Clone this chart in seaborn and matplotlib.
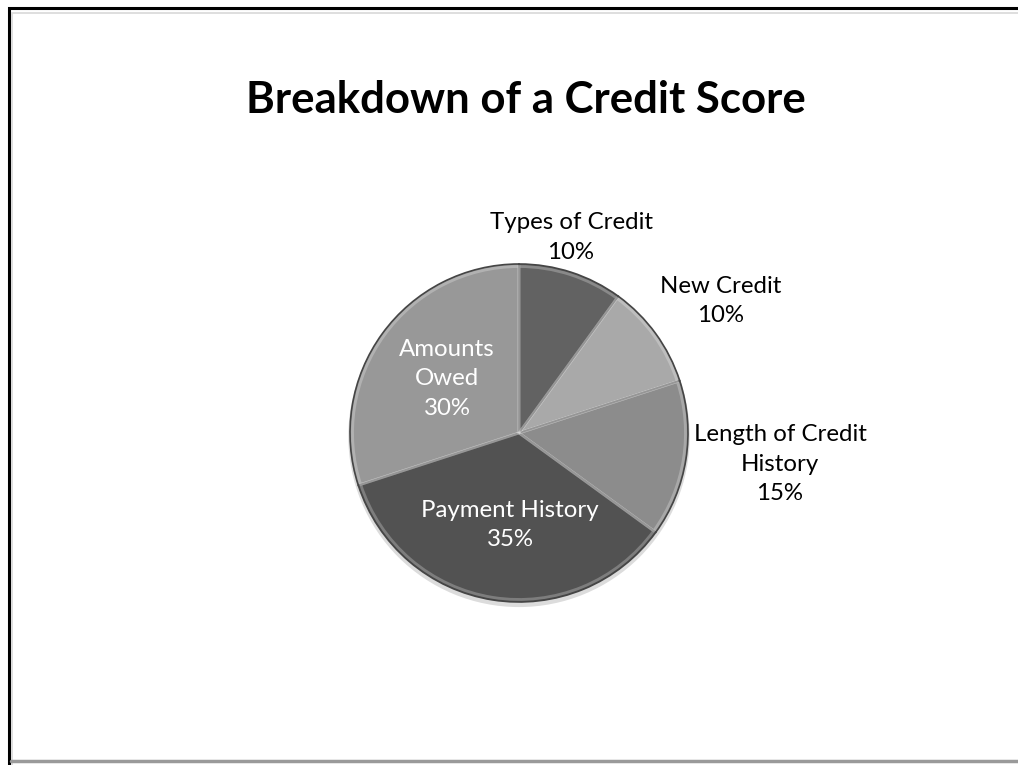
import matplotlib
matplotlib.use("Agg")
import matplotlib.pyplot as plt
import seaborn as sns
import numpy as np
from matplotlib.patches import Rectangle

categories = ["Types of Credit", "New Credit", "Length of Credit History",
              "Payment History", "Amounts Owed"]
values = [10, 10, 15, 35, 30]
label_texts = ["Types of Credit\n10%", "New Credit\n10%", "Length of Credit\nHistory\n15%",
               "Payment History\n35%", "Amounts\nOwed\n30%"]
colors = ["#626262", "#a9a9a9", "#8c8c8c", "#525252", "#989898"]
label_colors = ["black", "black", "black", "white", "white"]

sns.set_theme(style="white")
plt.rcParams['font.family'] = ['Lato', 'DejaVu Sans']

W, H = 1018, 765
fig = plt.figure(figsize=(W / 100, H / 100), dpi=100)
fig.patch.set_facecolor("white")

# frame
fig.add_artist(Rectangle((8.5 / W, -0.1), 1.2, 1 - 8.5 / H + 0.1, transform=fig.transFigure,
                         fill=False, edgecolor="black", linewidth=2.2))
fig.add_artist(Rectangle((11.5 / W, -0.1), 1.2, 1 - 11.5 / H + 0.1 - 0.002, transform=fig.transFigure,
                         fill=False, edgecolor="#d8d8d8", linewidth=1.2))
fig.add_artist(plt.Line2D([11 / W, 1], [4 / H, 4 / H], transform=fig.transFigure,
                          color="#9a9a9a", linewidth=2.5))

cx, cy, R = 519, 433, 169
ax = fig.add_axes([(cx - R) / W, (H - cy - R) / H, 2 * R / W, 2 * R / H])
ax.set_facecolor("none")

# soft shadow
shadow = plt.Circle((0.0, -0.02), 1.01, color="#dcdcdc", zorder=0, lw=0)
shadow.set_clip_on(False)
ax.add_patch(shadow)
wedges, _ = ax.pie(values, colors=colors, startangle=90, counterclock=False,
                   radius=1.0,
                   wedgeprops=dict(edgecolor="#454545", linewidth=1.2))
# bevel highlight
ax.pie(values, colors=["none"] * 5, startangle=90, counterclock=False, radius=0.985,
       wedgeprops=dict(edgecolor=(1, 1, 1, 0.25), linewidth=2.0, fill=False))
ax.set_xlim(-1, 1)
ax.set_ylim(-1, 1)
ax.axis("off")
for p in ax.patches:
    p.set_clip_on(False)

# label positions (relative to pie radius)
dists = [1.197, 1.428, 1.555, 0.547, 0.533]
angles = [75.1, 33.2, -6.8, -95.6, 143.1]
for txt, d, a, c in zip(label_texts, dists, angles, label_colors):
    ax.text(d * np.cos(np.radians(a)), d * np.sin(np.radians(a)), txt,
            ha="center", va="center", fontsize=17.3, color=c, linespacing=1.5,
            clip_on=False)

fig.text(526 / W, 1 - 113 / H, "Breakdown of a Credit Score", ha="center", va="baseline",
         fontsize=31.5, fontweight="bold", color="black")

fig.savefig("out.png", dpi=100)
